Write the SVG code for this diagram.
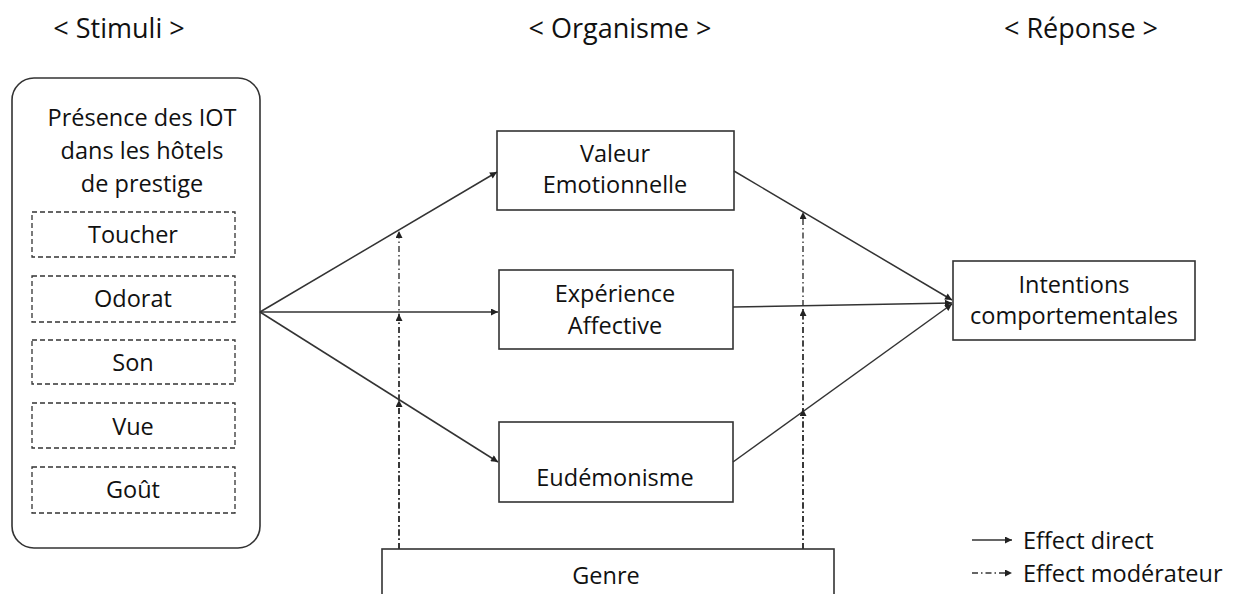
<svg xmlns="http://www.w3.org/2000/svg" width="1239" height="594" viewBox="0 0 1239 594">
<defs>
<marker id="ah" viewBox="0 0 10 10" refX="10" refY="5" markerWidth="9" markerHeight="7" markerUnits="userSpaceOnUse" orient="auto">
<path d="M0,0 L10,5 L0,10 z" fill="#222"/>
</marker>
</defs>
<style>
text{font-family:"Open Sans","Liberation Sans",sans-serif;font-size:23.5px;fill:#111;text-anchor:middle}
.box{fill:#fff;stroke:#333;stroke-width:1.6}
.dbox{fill:none;stroke:#333;stroke-width:1.3;stroke-dasharray:5 3}
.hdr{font-size:27px}
.leg{text-anchor:start}
.direct{fill:none;stroke:#333;stroke-width:1.5}
.mod{fill:none;stroke:#333;stroke-width:1.4;stroke-dasharray:6 3 1.5 3}
</style>
<rect width="1239" height="594" fill="#fff"/>
<g id="headers">
<text class="hdr" x="119" y="38">&lt; Stimuli &gt;</text>
<text class="hdr" x="620" y="38">&lt; Organisme &gt;</text>
<text class="hdr" x="1081" y="38">&lt; Réponse &gt;</text>
</g>
<g id="stimuli">
<rect class="box" x="12" y="78" width="248" height="470" rx="22"/>
<text x="142" y="126">Présence des IOT</text>
<text x="142" y="159">dans les hôtels</text>
<text x="142" y="192">de prestige</text>
</g>
<g id="toucher"><rect class="dbox" x="32" y="212" width="203" height="45"/><text x="133" y="243">Toucher</text></g>
<g id="odorat"><rect class="dbox" x="32" y="276" width="203" height="46"/><text x="133" y="307">Odorat</text></g>
<g id="son"><rect class="dbox" x="32" y="340" width="203" height="44"/><text x="133" y="371">Son</text></g>
<g id="vue"><rect class="dbox" x="32" y="403" width="203" height="45"/><text x="133" y="435">Vue</text></g>
<g id="gout"><rect class="dbox" x="32" y="467" width="203" height="46"/><text x="133" y="498">Goût</text></g>
<g id="valeur">
<rect class="box" x="497" y="131" width="237" height="79"/>
<text x="615" y="162">Valeur</text>
<text x="615" y="193">Emotionnelle</text>
</g>
<g id="experience">
<rect class="box" x="499" y="270" width="234" height="79"/>
<text x="615" y="302">Expérience</text>
<text x="615" y="334">Affective</text>
</g>
<g id="eudemonisme">
<rect class="box" x="499" y="422" width="234" height="80"/>
<text x="615" y="486">Eudémonisme</text>
</g>
<g id="intentions">
<rect class="box" x="953" y="261" width="242" height="79"/>
<text x="1074" y="293">Intentions</text>
<text x="1074" y="324">comportementales</text>
</g>
<g id="genre">
<rect class="box" x="382" y="549" width="452" height="60"/>
<text x="606" y="584">Genre</text>
</g>
<g id="connectors">
<path class="direct" d="M260,312 L497,172" marker-end="url(#ah)"/>
<path class="direct" d="M260,312 L498,312" marker-end="url(#ah)"/>
<path class="direct" d="M260,312 L498,462" marker-end="url(#ah)"/>
<path class="direct" d="M734,171 L952,300" marker-end="url(#ah)"/>
<path class="direct" d="M733,307 L952,303" marker-end="url(#ah)"/>
<path class="direct" d="M733,462 L952,304" marker-end="url(#ah)"/>
<path class="mod" d="M399,549 L399,231" marker-end="url(#ah)"/>
<path class="mod" d="M399,549 L399,314" marker-end="url(#ah)"/>
<path class="mod" d="M399,549 L399,400" marker-end="url(#ah)"/>
<path class="mod" d="M803,549 L803,212" marker-end="url(#ah)"/>
<path class="mod" d="M803,549 L803,309" marker-end="url(#ah)"/>
<path class="mod" d="M803,549 L803,409" marker-end="url(#ah)"/>
</g>
<g id="legend">
<path class="direct" d="M972,540 L1012,540" marker-end="url(#ah)"/>
<text class="leg" x="1023" y="549">Effect direct</text>
<path class="mod" d="M972,573 L1012,573" stroke-dasharray="4 3 1.5 3" marker-end="url(#ah)"/>
<text class="leg" x="1023" y="582">Effect modérateur</text>
</g>
</svg>
